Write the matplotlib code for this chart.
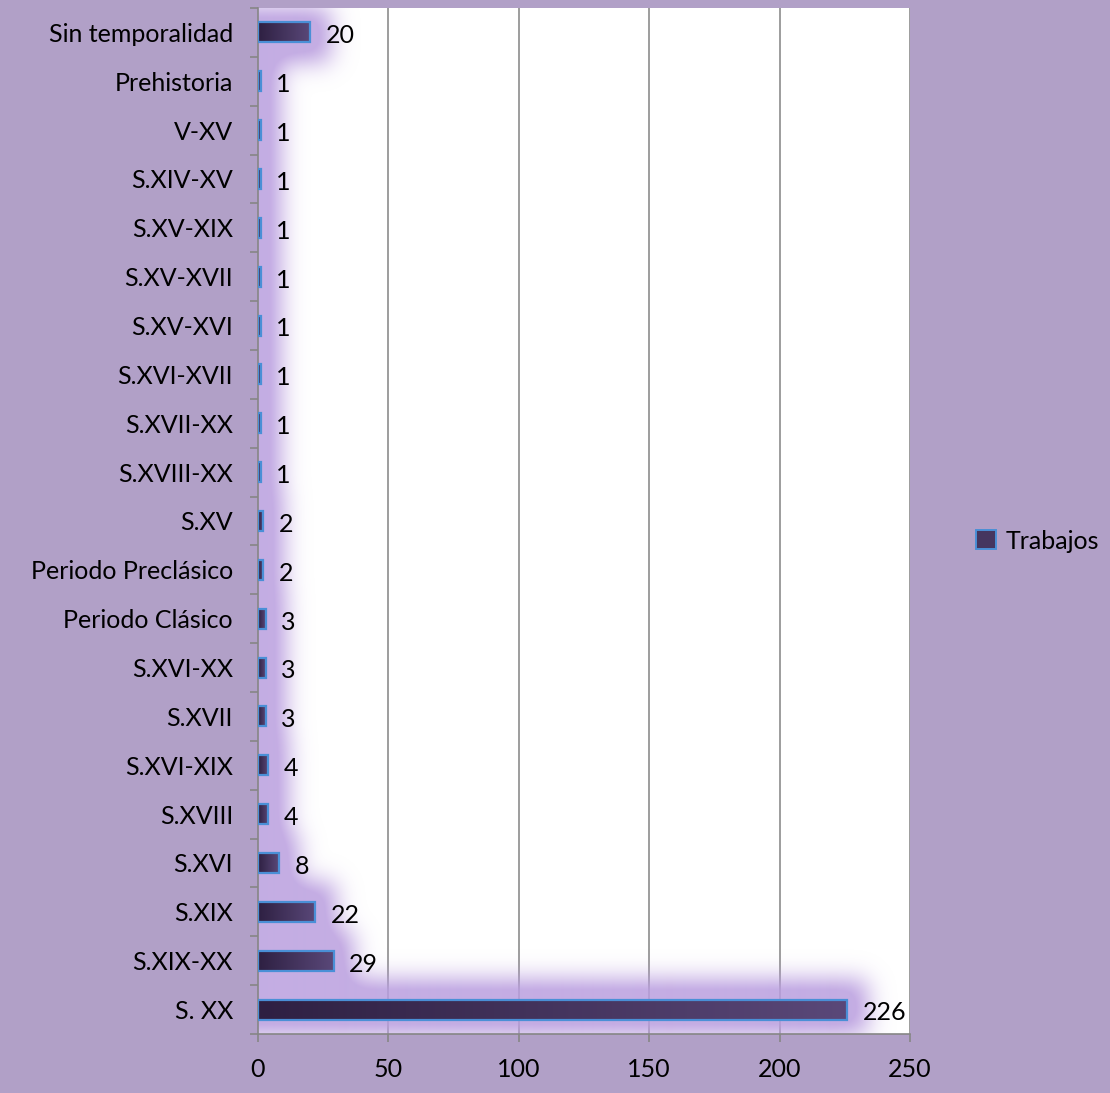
import numpy as np
import matplotlib
matplotlib.use("Agg")
from matplotlib import pyplot as plt
from matplotlib.patches import Rectangle, Patch
from matplotlib.colors import LinearSegmentedColormap

# categories from bottom to top, as drawn
periodos = ["S. XX", "S.XIX-XX", "S.XIX", "S.XVI", "S.XVIII", "S.XVI-XIX", "S.XVII",
            "S.XVI-XX", "Periodo Clásico", "Periodo Preclásico", "S.XV", "S.XVIII-XX",
            "S.XVII-XX", "S.XVI-XVII", "S.XV-XVI", "S.XV-XVII", "S.XV-XIX", "S.XIV-XV",
            "V-XV", "Prehistoria", "Sin temporalidad"]
trabajos = [226, 29, 22, 8, 4, 4, 3, 3, 3, 2, 2, 1, 1, 1, 1, 1, 1, 1, 1, 1, 20]
x_ticks = [0, 50, 100, 150, 200, 250]

bg = "#B1A0C7"
plt.rcParams["font.family"] = ["Lato", "DejaVu Sans"]
fs = 18

fig = plt.figure(figsize=(11.10, 10.93), dpi=100, facecolor=bg)
ax = fig.add_axes([0.2324, 0.054, 0.8198 - 0.2324, 0.9927 - 0.054])
ax.set_facecolor("white")

n = len(periodos)
xmax = 250
h = 0.41
ymin, ymax = -0.5, n - 0.5

# glow: dilated + blurred mask of the bars, roughly one cell per pixel
W, H = 652, 1026
px_x = xmax / W
px_y = (ymax - ymin) / H
xs = np.linspace(0, xmax, W)
ys = np.linspace(ymin, ymax, H)
X, Y = np.meshgrid(xs, ys)
mask = np.zeros((H, W))
dil = 19
for i, v in enumerate(trabajos):
    mask[(np.abs(Y - i) <= h / 2 + dil * px_y) & (X <= max(v, 0.8) + dil * px_x)] = 1.0
pad = 70
big = np.pad(mask, pad, mode="constant")
big[:, :pad] = big[:, pad:pad + 1]
sig = 12.0
k = np.arange(-3 * int(sig), 3 * int(sig) + 1)
g = np.exp(-k ** 2 / (2 * sig ** 2))
g /= g.sum()
big = np.apply_along_axis(lambda r: np.convolve(r, g, mode="same"), 1, big)
big = np.apply_along_axis(lambda c: np.convolve(c, g, mode="same"), 0, big)
blur = big[pad:-pad, pad:-pad]
alpha = np.clip(blur * 1.25, 0, 1) * 0.85
glow = np.zeros((H, W, 4))
glow[..., 0] = 0xBA / 255
glow[..., 1] = 0x9E / 255
glow[..., 2] = 0xDF / 255
glow[..., 3] = alpha

for gx in x_ticks[1:]:
    ax.axvline(gx, color="#8C8C8C", lw=1.2, zorder=0.5)

ax.imshow(glow, extent=[0, xmax, ymin, ymax], origin="lower", aspect="auto",
          interpolation="bilinear", zorder=1)

cmap = LinearSegmentedColormap.from_list("barra", ["#2E2042", "#5A4879"])
grad = np.linspace(0, 1, 256).reshape(1, -1)
for i, v in enumerate(trabajos):
    ax.imshow(grad, cmap=cmap, extent=[0, v, i - h / 2, i + h / 2], aspect="auto",
              interpolation="bilinear", zorder=2)
    ax.add_patch(Rectangle((0, i - h / 2), v, h, fill=False, edgecolor="#4A8FD6",
                           lw=1.6, zorder=3))
    ax.text(v + 6.0, i - 0.07, str(v), fontsize=fs, va="center", ha="left", zorder=4)

ax.set_xlim(0, xmax)
ax.set_ylim(ymin, ymax)
ax.set_xticks(x_ticks)
ax.set_xticklabels([str(t) for t in x_ticks], fontsize=fs)
ax.set_yticks(range(n))
ax.set_yticklabels(periodos, fontsize=fs)
ax.set_yticks(np.arange(ymin, ymax + 0.01, 1), minor=True)
ax.tick_params(axis="y", which="major", length=0, pad=18)
ax.tick_params(axis="y", which="minor", length=6, color="#868686", width=1.2)
ax.tick_params(axis="x", length=6, color="#868686", width=1.2, pad=11)
for s in ["top", "right"]:
    ax.spines[s].set_visible(False)
for s in ["left", "bottom"]:
    ax.spines[s].set_color("#868686")
    ax.spines[s].set_linewidth(1.2)

handle = Patch(facecolor="#45365F", edgecolor="#4A8FD6", lw=1.4)
fig.legend([handle], ["Trabajos"], loc="center left", bbox_to_anchor=(0.859, 0.505),
           frameon=False, fontsize=fs, handlelength=0.8, handleheight=0.8,
           handletextpad=0.4)

fig.savefig("out.png", dpi=100, facecolor=bg)
